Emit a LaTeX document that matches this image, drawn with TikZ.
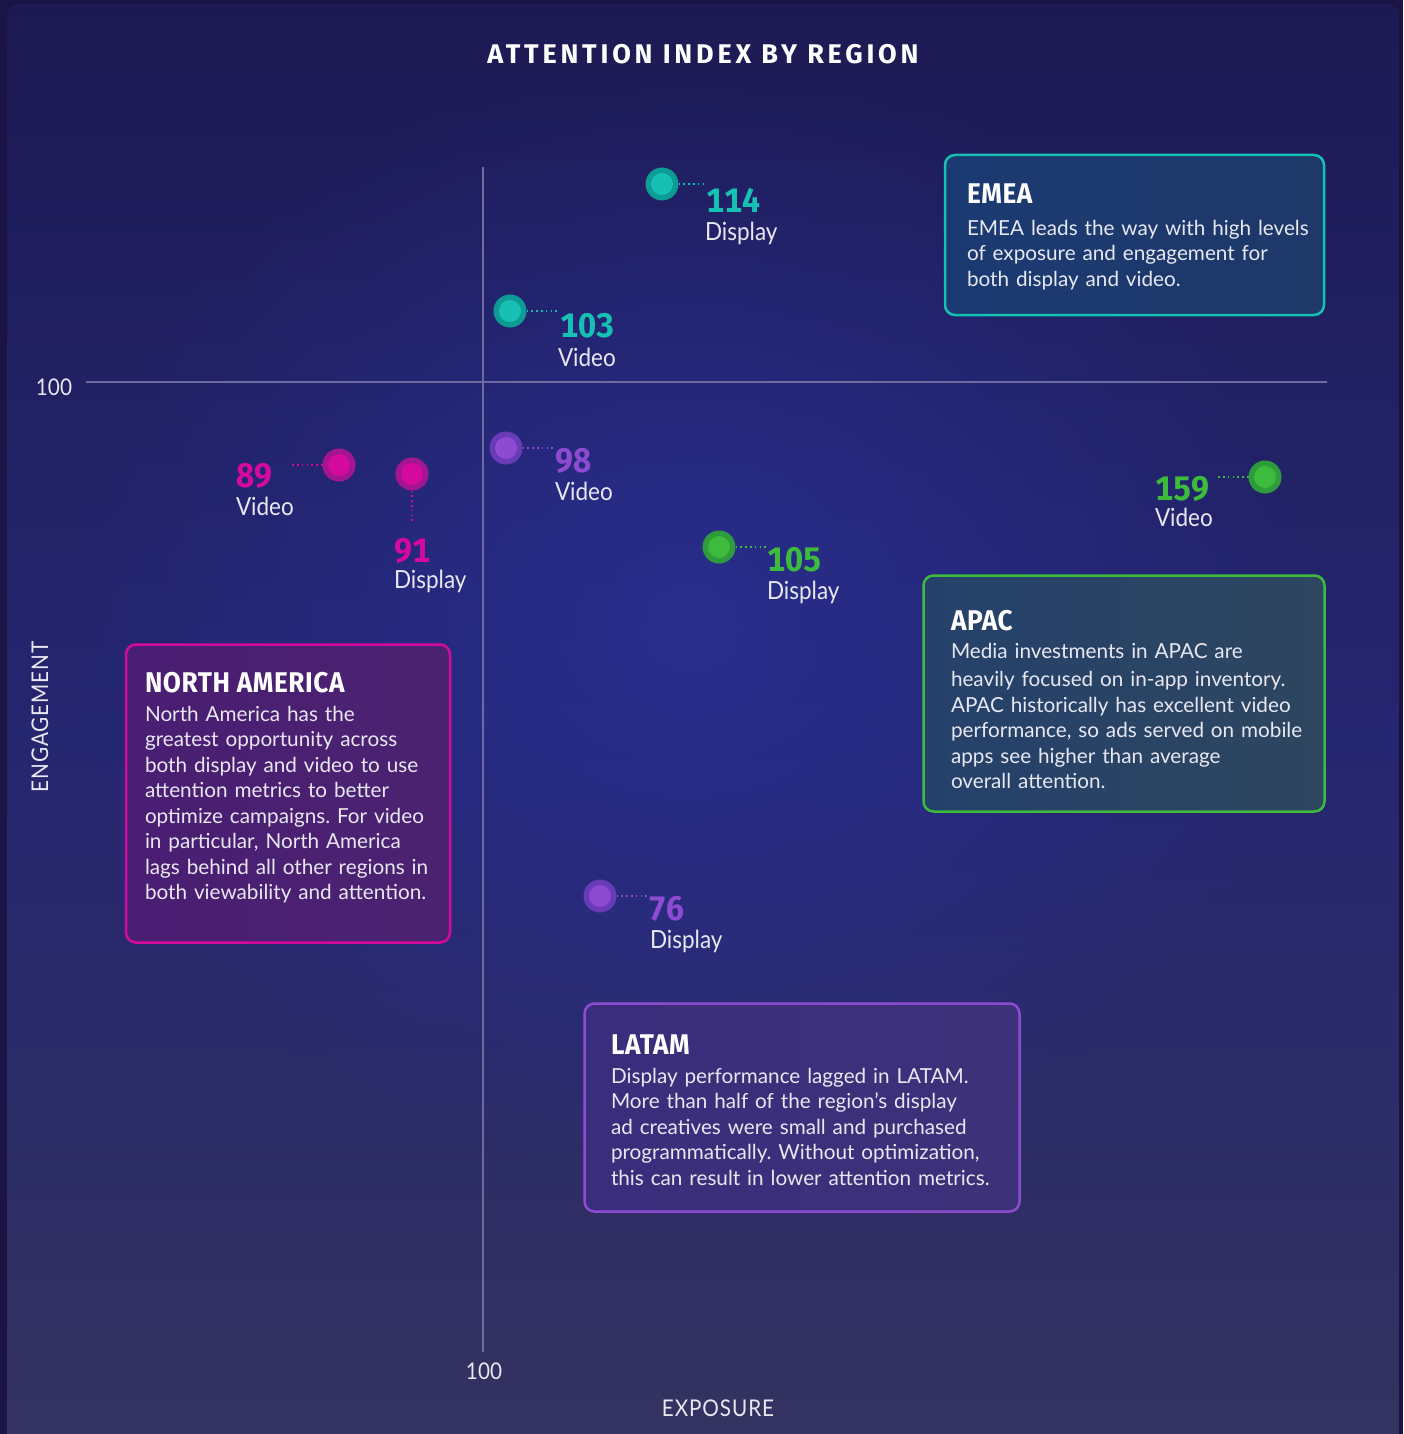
\documentclass[tikz,border=0pt]{standalone}
\usepackage{fontspec}
\setmainfont{Lato}
\newfontfamily\latocond[FakeStretch=0.9]{Lato}
\newfontfamily\firahead[FakeStretch=0.92,LetterSpace=2]{Fira Sans}
\newfontfamily\firanum[FakeStretch=0.95,Numbers=Monospaced]{Fira Sans}
\newfontfamily\firatitle[LetterSpace=14]{Fira Sans}
\newfontfamily\axisfam[FakeStretch=0.9,LetterSpace=4]{Lato}
\usetikzlibrary{fadings}
\newcommand\BodyF{\frenchspacing\fontsize{20.7}{25.5}\selectfont}
\newcommand\HeadF{\firahead\bfseries\fontsize{28.5}{30}\selectfont}
\newcommand\NumF{\firanum\bfseries\fontsize{34}{36}\selectfont}
\newcommand\WordF{\latocond\fontsize{25}{28}\selectfont}
\definecolor{frame}{HTML}{1A1545}
\definecolor{bgtop}{HTML}{1D1A53}
\definecolor{bgmid}{HTML}{252670}
\definecolor{bgbot}{HTML}{34335F}
\definecolor{glowc}{HTML}{2A3095}
\definecolor{axisc}{HTML}{6F6BA0}
\definecolor{txt}{HTML}{E8E8F2}
\definecolor{tealI}{HTML}{16C0B2}
\definecolor{tealO}{HTML}{0E9A95}
\definecolor{magI}{HTML}{D40A9E}
\definecolor{magO}{HTML}{A3168F}
\definecolor{purI}{HTML}{8C4BD0}
\definecolor{purO}{HTML}{6B3AB7}
\definecolor{grnI}{HTML}{3CBB3C}
\definecolor{grnO}{HTML}{2E9B3D}
\definecolor{emeaL}{HTML}{1B3A72}
\definecolor{emeaR}{HTML}{1E3968}
\definecolor{apacL}{HTML}{25416B}
\definecolor{apacR}{HTML}{2E465F}
\definecolor{naL}{HTML}{4A1E73}
\definecolor{naR}{HTML}{4B2270}
\definecolor{latL}{HTML}{3A2E7C}
\definecolor{latR}{HTML}{3D317A}
\tikzfading[name=glowfade, inner color=transparent!0, outer color=transparent!100]
\begin{document}
\begin{tikzpicture}[x=1pt,y=-1pt,
  every node/.style={inner sep=0pt, outer sep=0pt},
  bodytxt/.style={text=txt, font=\BodyF, text width=400, align=left, anchor=base west},
  headtxt/.style={text=white, font=\HeadF, anchor=base west},
  numtxt/.style={text=#1, font=\NumF, anchor=base west, text depth=0pt},
  wordtxt/.style={text=txt, font=\WordF, anchor=base west},
  axistxt/.style={text=txt, font=\axisfam\fontsize{23}{26}\selectfont},
  dotnode/.style 2 args={circle, fill=#1, minimum size=33, path picture={\fill[#2] (path picture bounding box.center) circle (11);}},
  dotline/.style={draw=#1, line width=1.6, dash pattern=on 1.6 off 3.2},
  axisline/.style={draw=axisc, line width=1.5},
  regionbox/.style n args={3}{draw=#1, line width=2.5, rounded corners=10, left color=#2, right color=#3, anchor=north west}]
\useasboundingbox (0,0) rectangle (1403,1434);
\begin{scope}
\clip (0,0) rectangle (1403,1434);
\fill[frame] (0,0) rectangle (1403,1434);
\fill[rounded corners=10, top color=bgtop, bottom color=bgbot, middle color=bgmid] (7,4) rectangle (1399,1470);
\fill[glowc, path fading=glowfade, opacity=0.8] (690,620) ellipse (640 and 560);
\end{scope}
% title
\node[text=white, font=\firatitle\bfseries\fontsize{27}{30}\selectfont] (title) at (703,54) {ATTENTION INDEX BY REGION};
% axes
\coordinate (vtop) at (483,167);
\coordinate (vbot) at (483,1352);
\coordinate (hl) at (86,382);
\coordinate (hr) at (1327,382);
\draw[axisline] (vtop) -- (vbot);
\draw[axisline] (hl) -- (hr);
\node[text=txt, font=\latocond\fontsize{23}{26}\selectfont] (y100) at (54,387) {100};
\node[text=txt, font=\latocond\fontsize{23}{26}\selectfont] (x100) at (484,1371) {100};
\node[axistxt] (xlab) at (718,1408) {EXPOSURE};
\node[axistxt, rotate=90] (ylab) at (40,717) {ENGAGEMENT};
% region boxes
\node[regionbox={tealI}{emeaL}{emeaR}, minimum width=379, minimum height=160] (emea) at (945,155) {};
\node[regionbox={grnI}{apacL}{apacR}, minimum width=401, minimum height=236] (apac) at (923.5,575.5) {};
\node[regionbox={magI}{naL}{naR}, minimum width=324, minimum height=298] (na) at (126,644.5) {};
\node[regionbox={purI}{latL}{latR}, minimum width=435, minimum height=208] (latam) at (584.5,1003.5) {};
% box texts
\node[headtxt] (emeaT) at (967,204) {EMEA};
\node[bodytxt] (emeaB) at (967,235) {EMEA leads the way with high levels\\of exposure and engagement for\\both display and video.};
\node[headtxt] (apacT) at (951,630) {APAC};
\node[bodytxt] (apacB) at (951,658) {Media investments in APAC are\\[3pt]heavily focused on in-app inventory.\\APAC historically has excellent video\\performance, so ads served on mobile\\apps see higher than average\\overall attention.};
\node[headtxt] (naT) at (145,692) {NORTH AMERICA};
\node[bodytxt] (naB) at (145,721) {North America has the\\greatest opportunity across\\both display and video to use\\attention metrics to better\\optimize campaigns. For video\\in particular, North America\\lags behind all other regions in\\both viewability and attention.};
\node[headtxt] (latT) at (611,1054) {LATAM};
\node[bodytxt] (latB) at (611,1083) {Display performance lagged in LATAM.\\More than half of the region’s display\\ad creatives were small and purchased\\programmatically. Without optimization,\\this can result in lower attention metrics.};
% data points
\node[dotnode={tealO}{tealI}] (d114) at (662,184) {};
\node[dotnode={tealO}{tealI}] (d103) at (510,311) {};
\node[dotnode={purO}{purI}] (d98) at (506,448) {};
\node[dotnode={magO}{magI}] (d89) at (339,465) {};
\node[dotnode={magO}{magI}] (d91) at (412,474) {};
\node[dotnode={grnO}{grnI}] (d105) at (719,547) {};
\node[dotnode={grnO}{grnI}] (d159) at (1265,477) {};
\node[dotnode={purO}{purI}] (d76) at (600,896) {};
% labels
\node[numtxt=tealI] (n114) at (706,212) {114};
\node[wordtxt] (w114) at (705,240) {Display};
\node[numtxt=tealI] (n103) at (560,337) {103};
\node[wordtxt] (w103) at (558,366) {Video};
\node[numtxt=purI] (n98) at (555,472) {98};
\node[wordtxt] (w98) at (555,500) {Video};
\node[numtxt=magI] (n89) at (236,487) {89};
\node[wordtxt] (w89) at (236,515) {Video};
\node[numtxt=magI] (n91) at (394,562) {91};
\node[wordtxt] (w91) at (394,588) {Display};
\node[numtxt=grnI] (n105) at (767,571) {105};
\node[wordtxt] (w105) at (767,599) {Display};
\node[numtxt=grnI] (n159) at (1155,500) {159};
\node[wordtxt] (w159) at (1155,526) {Video};
\node[numtxt=purI] (n76) at (648,920) {76};
\node[wordtxt] (w76) at (650,948) {Display};
% dotted leaders
\coordinate (c89) at (290,465);
\coordinate (c159) at (1218,477);
\coordinate (c91) at (412,523);
\draw[dotline=tealI] (d114.east) -- (d114.east -| n114.west);
\draw[dotline=tealI] (d103.east) -- (d103.east -| n103.west);
\draw[dotline=purI] (d98.east) -- (d98.east -| n98.west);
\draw[dotline=grnI] (d105.east) -- (d105.east -| n105.west);
\draw[dotline=purI] (d76.east) -- (d76.east -| n76.west);
\draw[dotline=magI] (d89.west) -- (c89);
\draw[dotline=grnI] (d159.west) -- (c159);
\draw[dotline=magI] (d91.south) -- (c91);
\end{tikzpicture}
\end{document}
